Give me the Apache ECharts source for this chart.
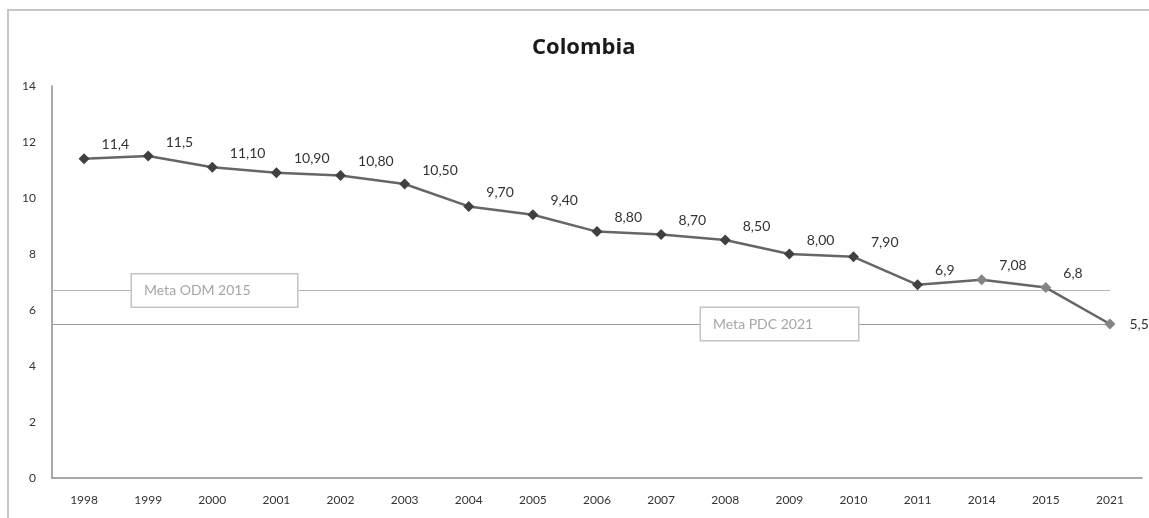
<!DOCTYPE html>
<html>
<head>
<meta charset="utf-8">
<script src="https://cdn.jsdelivr.net/npm/echarts@6/dist/echarts.min.js"></script>
<style>
  html, body { margin: 0; padding: 0; background: #fff; }
  #chart { width: 1149px; height: 518px; }
</style>
</head>
<body>
<div id="chart"></div>
<script>
// Años y tasas (por 1.000) para Colombia
const years = ['1998', '1999', '2000', '2001', '2002', '2003', '2004', '2005', '2006',
               '2007', '2008', '2009', '2010', '2011', '2014', '2015', '2021'];
const rates = [11.4, 11.5, 11.10, 10.90, 10.80, 10.50, 9.70, 9.40, 8.80,
               8.70, 8.50, 8.00, 7.90, 6.9, 7.08, 6.8, 5.5];
const rateLabels = ['11,4', '11,5', '11,10', '10,90', '10,80', '10,50', '9,70', '9,40', '8,80',
                    '8,70', '8,50', '8,00', '7,90', '6,9', '7,08', '6,8', '5,5'];
const metaODM = 6.7;   // Meta ODM 2015
const metaPDC = 5.5;   // Meta PDC 2021
const yTicks = [0, 2, 4, 6, 8, 10, 12, 14];

const FONT = 'Lato';
const lastIdx = years.length - 1;

// the later points (2014 onwards) are drawn with lighter markers
const seriesData = rates.map((v, i) => {
  const item = { value: v };
  if (i >= 14) item.itemStyle = { color: '#858585' };
  if (i === lastIdx) item.label = { offset: [0, 0], distance: 14 };
  return item;
});

const boxLabel = {
  show: true,
  position: 'insideStart',
  color: '#a6a6a6',
  fontFamily: FONT,
  fontSize: 14,
  backgroundColor: '#ffffff',
  borderColor: '#c4c4c4',
  borderWidth: 1.5,
  padding: [9, 12, 9, 12],
  align: 'left'
};

// goal lines run from the left edge of the plot to the last category
function goalLine(value, text, color, dist, w) {
  return [
    { coord: [-0.5, value], lineStyle: { color: color, width: 1.2, type: 'solid' },
      label: Object.assign({}, boxLabel, { formatter: text, distance: [dist, 0], width: w }) },
    { coord: [lastIdx, value] }
  ];
}

const chart = echarts.init(document.getElementById('chart'), null, { renderer: 'canvas' });
chart.setOption({
  animation: false,
  backgroundColor: '#ffffff',
  graphic: [{
    type: 'rect',
    shape: { x: 8, y: 10, width: 1400, height: 800 },
    style: { fill: 'none', stroke: '#c6c6c6', lineWidth: 2 },
    silent: true
  }],
  title: {
    text: 'Colombia',
    left: 527,
    top: 32,
    textStyle: { fontFamily: 'Open Sans', fontWeight: 'bold', fontSize: 22, color: '#1a1a1a' }
  },
  grid: { left: 52, right: 7, top: 86, bottom: 40, containLabel: false },
  xAxis: [{
    type: 'category',
    data: years,
    boundaryGap: true,
    axisLine: { lineStyle: { color: '#8c8c8c', width: 1.5 } },
    axisTick: { show: false },
    axisLabel: { color: '#333', fontFamily: FONT, fontSize: 12, margin: 16, interval: 0 },
    splitLine: { show: false }
  }, {
    // hidden position axis aligned with the category centres, used for the goal lines
    type: 'value',
    min: -0.5,
    max: lastIdx + 0.5,
    show: false
  }],
  yAxis: {
    type: 'value',
    min: yTicks[0],
    max: yTicks[yTicks.length - 1],
    interval: yTicks[1] - yTicks[0],
    axisLine: { show: true, onZero: false, lineStyle: { color: '#8c8c8c', width: 1.5 } },
    axisTick: { show: false },
    axisLabel: { color: '#333', fontFamily: FONT, fontSize: 12, margin: 16 },
    splitLine: { show: false }
  },
  series: [{
    type: 'line',
    xAxisIndex: 1,
    data: [],
    silent: true,
    z: 2,
    markLine: {
      silent: true,
      symbol: ['none', 'none'],
      animation: false,
      data: [
        goalLine(metaODM, 'Meta ODM 2015', '#b4b4b4', 80, 141),
        goalLine(metaPDC, 'Meta PDC 2021', '#9a9a9a', 649, 133)
      ]
    }
  }, {
    type: 'line',
    data: seriesData,
    symbol: 'diamond',
    symbolSize: 11,
    z: 5,
    lineStyle: { color: '#666666', width: 2.5 },
    itemStyle: { color: '#404040' },
    label: {
      show: true,
      position: 'right',
      distance: 12,
      offset: [0, -14],
      color: '#333',
      fontFamily: FONT,
      fontSize: 14,
      formatter: p => rateLabels[p.dataIndex]
    }
  }]
});
</script>
</body>
</html>
